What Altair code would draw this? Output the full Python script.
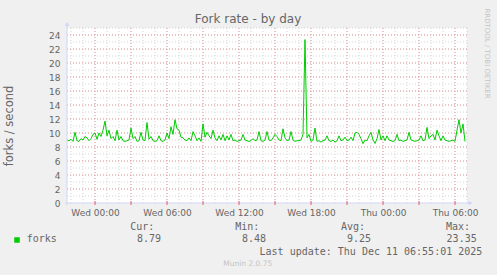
import altair as alt
import pandas as pd
from datetime import datetime, timedelta

# ---------------- data ----------------
start_time = "2025-12-09T21:40:00"
step_minutes = 10
forks = [
    9.0, 8.9, 9.1, 8.8, 10.1, 8.9, 8.8, 9.2, 9.0, 9.5,
    9.3, 8.9, 9.2, 9.8, 10.0, 9.1, 10.0, 9.5, 10.4, 11.7,
    9.6, 10.4, 9.2, 9.5, 8.9, 10.4, 9.0, 9.5, 8.9, 8.8,
    8.9, 9.0, 10.7, 9.2, 9.5, 8.8, 8.9, 10.1, 9.0, 8.9,
    11.5, 9.1, 9.5, 8.9, 8.8, 8.9, 9.6, 8.9, 8.8, 9.0,
    10.0, 9.2, 10.9, 9.8, 11.9, 10.6, 10.4, 9.4, 9.3, 9.0,
    8.9, 9.3, 8.9, 10.2, 9.6, 8.9, 9.3, 8.8, 11.3, 9.4,
    10.1, 9.6, 9.2, 10.4, 9.3, 8.9, 9.6, 9.0, 9.8, 8.9,
    9.6, 9.0, 9.8, 8.9, 9.0, 8.8, 8.9, 9.0, 9.8, 9.0,
    8.9, 8.8, 8.9, 9.2, 8.9, 9.0, 10.2, 8.9, 8.8, 9.0,
    10.2, 9.0, 8.9, 9.3, 9.8, 9.5, 9.0, 8.9, 10.6, 9.3,
    8.9, 9.0, 10.2, 9.0, 8.8, 8.9, 8.9, 9.0, 9.8, 23.35,
    9.3, 9.8, 8.8, 9.0, 10.7, 8.8, 8.9, 8.7, 8.9, 9.0,
    9.6, 8.9, 8.8, 9.0, 8.7, 8.9, 9.6, 8.9, 9.0, 9.4,
    8.9, 9.0, 9.4, 8.9, 10.0, 10.1, 9.8, 9.2, 8.48, 9.0,
    8.9, 9.6, 10.1, 9.0, 8.5, 9.2, 10.5, 9.0, 9.6, 8.9,
    9.6, 9.0, 8.9, 8.8, 8.9, 9.8, 8.9, 9.0, 8.8, 8.9,
    9.0, 10.1, 9.0, 8.9, 8.8, 8.9, 9.0, 9.6, 8.9, 9.0,
    10.8, 9.2, 9.6, 9.8, 9.0, 10.4, 9.6, 8.9, 9.6, 9.0,
    8.9, 8.8, 8.9, 9.0, 8.8, 10.4, 11.9, 10.0, 11.3, 8.79,
]

x_label_times = ["2025-12-10T00:00:00", "2025-12-10T06:00:00", "2025-12-10T12:00:00",
                 "2025-12-10T18:00:00", "2025-12-11T00:00:00", "2025-12-11T06:00:00"]
y_label_values = [0, 2, 4, 6, 8, 10, 12, 14, 16, 18, 20, 22, 24]

legend_name = "forks"
legend_heads = ["Cur:", "Min:", "Avg:", "Max:"]
legend_values = ["8.79", "8.48", "9.25", "23.35"]
title_text = "Fork rate - by day"
y_title = "forks / second"
update_text = "Last update: Thu Dec 11 06:55:01 2025"
footer_text = "Munin 2.0.75"
side_text = "RRDTOOL / TOBI OETIKER"

# ---------------- helpers ----------------
t0 = datetime.fromisoformat(start_time)
times = [(t0 + timedelta(minutes=step_minutes * i)).strftime("%Y-%m-%dT%H:%M:%SZ")
         for i in range(len(forks))]
df = pd.DataFrame({"t": times, "v": forks})


def dt(s):
    d = datetime.fromisoformat(s)
    return alt.DateTime(year=d.year, month=d.month, date=d.day,
                        hours=d.hour, minutes=d.minute, utc=True)


x_domain = [dt("2025-12-09T21:40:00"), dt("2025-12-11T07:00:00")]
minor_x = [(datetime(2025, 12, 9, 22) + timedelta(hours=h)).strftime("%Y-%m-%dT%H:%M:%SZ")
           for h in range(34)]
major_x = [(datetime(2025, 12, 10, 0) + timedelta(hours=3 * h)).strftime("%Y-%m-%dT%H:%M:%SZ")
           for h in range(11)]
minor_y = list(range(1, 26))
major_y = list(range(2, 25, 2))

FONT = "DejaVu Sans"
MONO = "DejaVu Sans Mono"
TXT = "#666666"
AXC = "#CFD6F8"
one = alt.Data(values=[{"a": 1}])

xs = alt.Scale(type="utc", domain=x_domain)
ys = alt.Scale(domain=[0, 25], nice=False, zero=True)
x_axis = alt.Axis(values=[dt(s) for s in x_label_times], format="%a %H:%M",
                  labelFont=FONT, labelFontSize=9, labelColor=TXT,
                  labelPadding=5, domain=False, ticks=False, grid=False,
                  labelFlush=False, labelOverlap=False, title=None)
y_axis = alt.Axis(values=y_label_values, labelFont=FONT, labelFontSize=9,
                  labelColor=TXT, labelPadding=7, domain=False, ticks=False,
                  grid=False, labelFlush=False, title=None)


def X(f):
    return alt.X(f, scale=xs, axis=x_axis, title=None)


def Y(f):
    return alt.Y(f, scale=ys, axis=y_axis, title=None)


# grid
g_minor_y = alt.Chart(pd.DataFrame({"y": minor_y})).mark_rule(
    color="#D4D4D4", strokeDash=[1, 2], strokeWidth=1).encode(y=Y("y:Q"))
g_minor_x = alt.Chart(pd.DataFrame({"t": minor_x})).mark_rule(
    color="#D4D4D4", strokeDash=[1, 2], strokeWidth=1).encode(x=X("t:T"))
g_major_y = alt.Chart(pd.DataFrame({"y": major_y})).mark_rule(
    color="#EBA0A0", strokeDash=[1, 2], strokeWidth=1).encode(y=Y("y:Q"))
g_major_x = alt.Chart(pd.DataFrame({"t": major_x})).mark_rule(
    color="#EBA0A0", strokeDash=[1, 2], strokeWidth=1).encode(x=X("t:T"))
tick_major_x = alt.Chart(pd.DataFrame({"t": major_x})).mark_rule(
    color="#E86060", strokeWidth=1).encode(
    x=X("t:T"), y=alt.value(173), y2=alt.value(177))

line = alt.Chart(df).mark_line(color="#00CC00", strokeWidth=1, interpolate="linear").encode(
    x=X("t:T"), y=Y("v:Q"))

# axes lines and arrows
x_axis_line = alt.Chart(one).mark_rule(color=AXC, strokeWidth=1).encode(
    x=alt.value(-2), x2=alt.value(403), y=alt.value(175))
y_axis_line = alt.Chart(one).mark_rule(color=AXC, strokeWidth=1).encode(
    y=alt.value(177), y2=alt.value(-4), x=alt.value(0))
x_arrow = alt.Chart(one).mark_point(shape="triangle-right", filled=True, color=AXC,
                                     size=22, opacity=1).encode(
    x=alt.value(403.5), y=alt.value(175))
y_arrow = alt.Chart(one).mark_point(shape="triangle-up", filled=True, color=AXC,
                                     size=22, opacity=1).encode(
    x=alt.value(0), y=alt.value(-4))


def text(s, x, y, size=10, font=FONT, color=TXT, align="left", angle=0):
    kw = dict(text=s, font=font, fontSize=size, color=color, align=align, baseline="middle")
    if angle:
        kw["angle"] = angle
    return alt.Chart(one).mark_text(**kw).encode(x=alt.value(x), y=alt.value(y))


texts = [
    text(title_text, 181, -9, size=12, align="center"),
    text(y_title, -57, 98, size=11.5, align="center", angle=270),
    text(side_text, 419.5, 25.5, size=7, color="#C4C4C4", align="center", angle=90),
    text(legend_name, -40.3, 211.3, font=MONO),
    text(update_text, 415.3, 223.7, font=MONO, align="right"),
    text(footer_text, 180.8, 235.7, size=7.5, color="#C4C4C4", align="center"),
]
head_right = [87.3, 192.3, 298, 403]
val_right = [94, 199, 304, 409.7]
for h, v, hx, vx in zip(legend_heads, legend_values, head_right, val_right):
    texts.append(text(h, hx, 198.7, font=MONO, align="right"))
    texts.append(text(v, vx, 211.3, font=MONO, align="right"))

swatch = alt.Chart(one).mark_square(color="#00CC00", size=30, opacity=1).encode(
    x=alt.value(-50), y=alt.value(212))

chart = alt.layer(
    g_minor_y, g_minor_x, g_major_y, g_major_x, line,
    x_axis_line, y_axis_line, tick_major_x, x_arrow, y_arrow, swatch, *texts
).properties(
    width=400, height=175,
    padding={"left": 67, "top": 28, "right": 30, "bottom": 72},
    autosize="none",
    background="#F0F0F0",
).configure_view(fill="white", strokeWidth=0)

chart.save("out.html", embed_options={"renderer": "svg", "actions": False})
